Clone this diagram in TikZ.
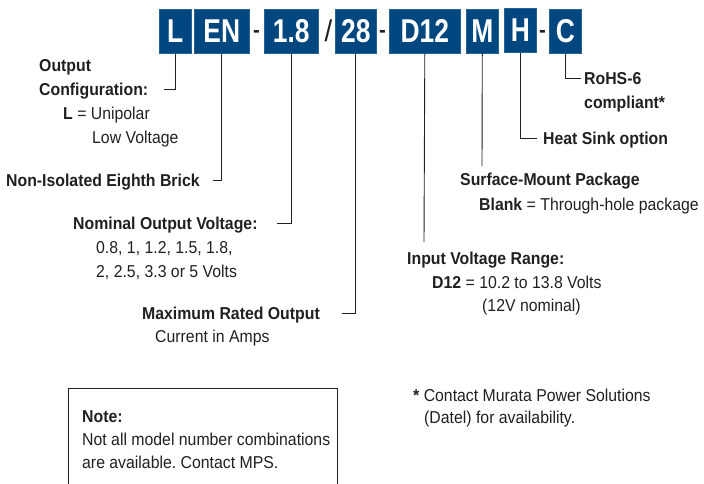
\documentclass[tikz,border=0pt]{standalone}
\usepackage{fontspec}
\setmainfont[FakeStretch=0.92]{Liberation Sans}
\newfontfamily\boxfont[FakeStretch=0.8]{Liberation Sans}
\frenchspacing
\definecolor{mpsblue}{RGB}{0,70,127}
\definecolor{ink}{RGB}{35,31,32}
\tikzset{
  codebox/.style={fill=mpsblue, draw=mpsblue!85!white, line width=0.6pt, text=white, inner sep=0pt,
     minimum height=44pt, font=\boxfont\fontsize{33}{33}\selectfont\bfseries, anchor=north west},
  sepch/.style={text=ink, inner sep=0pt, font=\fontsize{22}{22}\selectfont\bfseries},
  lbl/.style={text=ink, inner sep=0pt, anchor=west, text height=12.3pt, text depth=0pt,
     font=\fontsize{17.2}{17.2}\selectfont},
  blbl/.style={lbl, font=\fontsize{17.2}{17.2}\selectfont\bfseries},
  conn/.style={draw=ink, line width=0.9pt},
}
\begin{document}
\begin{tikzpicture}[x=1pt,y=-1pt]
\useasboundingbox (0,0) rectangle (704,483);
% code boxes
\node[codebox, minimum width=32pt] (bL)  at (159,9) {L};
\node[codebox, minimum width=55pt] (bEN) at (194,9) {EN};
\node[codebox, minimum width=54pt] (bV)  at (264,9) {1.8};
\node[codebox, minimum width=41pt] (bA)  at (335,9) {28};
\node[codebox, minimum width=71pt] (bD)  at (389,9) {D12};
\node[codebox, minimum width=32pt] (bM)  at (466,9) {M};
\node[codebox, minimum width=32pt] (bH)  at (504,8) {H};
\node[codebox, minimum width=32pt] (bC)  at (549,9) {C};
% separators
\node[sepch] (s1) at (256.5,34) {-};
\node[text=ink, inner sep=0pt, font=\fontsize{30}{30}\selectfont] (s2) at (328.5,31) {/};
\node[sepch] (s3) at (382.5,34) {-};
\node[sepch] (s4) at (542.5,34) {-};
% labels
\node[blbl] (out1) at (39,65) {Output};
\node[blbl] (cfg)  at (39,89) {Configuration:};
\node[lbl]  (cfg2) at (63,113) {\textbf{L} = Unipolar};
\node[lbl]  (cfg3) at (92,137) {Low Voltage};
\node[blbl] (nie)  at (6,180) {Non-Isolated Eighth Brick};
\node[blbl] (nov)  at (73,223) {Nominal Output Voltage:};
\node[lbl]  (nov2) at (96,247) {0.8, 1, 1.2, 1.5, 1.8,};
\node[lbl]  (nov3) at (96,271) {2, 2.5, 3.3 or 5 Volts};
\node[blbl] (mro)  at (142,313) {Maximum Rated Output};
\node[lbl]  (mro2) at (155,336) {Current in Amps};
\node[blbl] (ivr)  at (407,258) {Input Voltage Range:};
\node[lbl]  (ivr2) at (432,282) {\textbf{D12} = 10.2 to 13.8 Volts};
\node[lbl]  (ivr3) at (482,305) {(12V nominal)};
\node[blbl] (smp)  at (460,179) {Surface-Mount Package};
\node[lbl]  (smp2) at (479,204) {\textbf{Blank} = Through-hole package};
\node[blbl] (hs)   at (543,138) {Heat Sink option};
\node[blbl] (rohs) at (584,78) {RoHS-6};
\node[blbl] (rohs2) at (584,102) {compliant*};
% connector ends
\coordinate (eL)  at (164,89);
\coordinate (eEN) at (213,180);
\coordinate (eV)  at (277,223);
\coordinate (eA)  at (342,313);
\coordinate (eD)  at (424,242);
\coordinate (eM)  at (482,166);
\coordinate (eH)  at (537,138);
\coordinate (eC)  at (581,78);
\draw[conn] (bL.south)  |- (eL);
\draw[conn] (bEN.south) |- (eEN);
\draw[conn] (bV.south)  |- (eV);
\draw[conn] (bA.south)  |- (eA);
\draw[conn] (bD.south)  -- (eD);
\draw[conn] (bM.south)  -- (eM);
\draw[conn] (bH.south)  |- (eH);
\draw[conn] (bC.south)  |- (eC);
% note box
\coordinate (nb1) at (68,490);
\coordinate (nb2) at (68,388);
\coordinate (nb3) at (337,388);
\coordinate (nb4) at (337,490);
\draw[draw=ink, line width=0.7pt] (nb1) -- (nb2) -- (nb3) -- (nb4);
\node[blbl] (note)  at (82,416) {Note:};
\node[lbl]  (note2) at (82,439) {Not all model number combinations};
\node[lbl]  (note3) at (82,462) {are available. Contact MPS.};
% footnote
\node[lbl] (fn1) at (413,395) {\textbf{*} Contact Murata Power Solutions};
\node[lbl] (fn2) at (424,417) {(Datel) for availability.};
\end{tikzpicture}
\end{document}
